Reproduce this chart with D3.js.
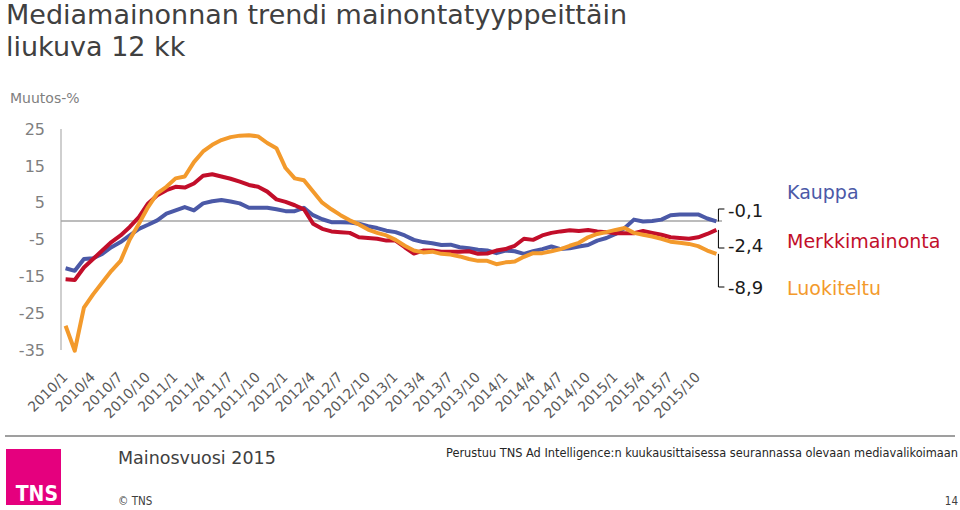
<!DOCTYPE html>
<html><head><meta charset="utf-8">
<script src="https://cdn.jsdelivr.net/npm/d3@7"></script>
<style>
html,body{margin:0;padding:0;background:#fff;}
svg{display:block;font-family:"DejaVu Sans",Verdana,sans-serif;}
</style></head>
<body><svg id="c" width="960" height="510"></svg>
<script>
// ---- data ----
const years = [2010, 2011, 2012, 2013, 2014, 2015];
const monthsPerYear = 12;
const tickLabels = ["2010/1","2010/4","2010/7","2010/10","2011/1","2011/4","2011/7","2011/10",
  "2012/1","2012/4","2012/7","2012/10","2013/1","2013/4","2013/7","2013/10",
  "2014/1","2014/4","2014/7","2014/10","2015/1","2015/4","2015/7","2015/10"];
const yTicks = [25, 15, 5, -5, -15, -25, -35];
const seriesNames = ["Kauppa", "Merkkimainonta", "Luokiteltu"];
const seriesColors = ["#4B59A7", "#C20E2A", "#F39A2C"];
const endLabels = ["-0,1", "-2,4", "-8,9"];
const kauppa = [-12.8,-13.5,-10.3,-10.1,-8.9,-7.1,-5.7,-3.9,-2.1,-1.0,0.2,2.0,
  2.9,3.8,2.9,4.8,5.4,5.7,5.3,4.8,3.6,3.6,3.6,3.2,
  2.7,2.7,3.6,1.6,0.5,-0.3,-0.3,-0.4,-0.7,-1.4,-1.9,-2.6,
  -3.0,-3.9,-5.1,-5.7,-6.0,-6.5,-6.4,-7.1,-7.4,-7.8,-8.0,-8.7,
  -8.0,-8.2,-8.9,-8.2,-7.6,-6.9,-7.6,-7.4,-6.9,-6.5,-5.3,-4.6,
  -3.5,-1.9,0.4,-0.1,0.0,0.4,1.6,1.8,1.8,1.8,0.7,-0.1];
const merkkimainonta = [-15.8,-16.0,-12.6,-10.3,-8.0,-5.7,-3.9,-1.6,1.1,4.8,7.0,8.4,
  9.3,9.1,10.2,12.3,12.7,12.1,11.5,10.7,9.8,9.3,8.0,5.9,
  5.2,4.3,3.2,-0.7,-2.1,-2.8,-3.0,-3.2,-4.4,-4.6,-4.8,-5.3,
  -5.3,-7.1,-8.8,-8.0,-8.0,-8.3,-8.3,-8.3,-8.2,-8.9,-8.8,-8.0,
  -7.6,-6.7,-4.8,-5.1,-3.9,-3.2,-2.8,-2.5,-2.7,-2.4,-2.8,-3.0,
  -3.3,-3.3,-3.3,-2.7,-3.2,-3.7,-4.4,-4.6,-4.8,-4.4,-3.5,-2.4];
const luokiteltu = [-28.4,-35.2,-23.5,-19.9,-16.7,-13.5,-10.8,-5.0,-0.7,3.8,7.5,9.3,
  11.6,12.1,16.0,18.9,20.7,22.0,22.8,23.2,23.3,23.0,21.2,19.8,
  14.4,11.6,11.1,8.0,5.0,3.2,1.6,0.2,-0.9,-2.3,-3.2,-3.9,
  -5.1,-6.7,-8.0,-8.5,-8.3,-8.9,-9.1,-9.6,-10.3,-10.8,-10.8,-11.7,
  -11.2,-11.0,-9.7,-8.7,-8.7,-8.2,-7.6,-6.7,-5.9,-4.4,-3.5,-3.0,
  -2.4,-1.9,-3.2,-3.7,-4.2,-4.8,-5.6,-5.9,-6.2,-6.8,-8.0,-8.9];
const seriesValues = [kauppa, merkkimainonta, luokiteltu];

// ---- build ----
const months = [];
years.forEach(y => { for (let m = 1; m <= monthsPerYear; m++) months.push(y + "/" + m); });

const svg = d3.select("#c");

// title
svg.append("text").attr("x", 6).attr("y", 24).attr("font-size", 27).attr("fill", "#404040")
  .text("Mediamainonnan trendi mainontatyyppeittäin");
svg.append("text").attr("x", 6).attr("y", 56).attr("font-size", 27).attr("fill", "#404040")
  .text("liukuva 12 kk");
svg.append("text").attr("x", 10).attr("y", 103).attr("font-size", 14).attr("fill", "#808080")
  .text("Muutos-%");

const x = d3.scalePoint().domain(months).range([61, 721]).padding(0.5);
const y = d3.scaleLinear().domain([-35, 25]).range([350, 129]);

// y axis labels
svg.append("g").selectAll("text").data(yTicks).join("text")
  .attr("x", 45).attr("y", d => y(d)).attr("dy", "0.36em")
  .attr("text-anchor", "end").attr("font-size", 16).attr("fill", "#7f7f7f")
  .text(d => d);

// y axis line
svg.append("line").attr("x1", 61).attr("x2", 61).attr("y1", y(25)).attr("y2", y(-35))
  .attr("stroke", "#bfbfbf").attr("stroke-width", 1.5);
// zero line
svg.append("line").attr("x1", 61).attr("x2", 722).attr("y1", y(0)).attr("y2", y(0))
  .attr("stroke", "#a6a6a6").attr("stroke-width", 1.5);

// x labels
svg.append("g").selectAll("text").data(tickLabels).join("text")
  .attr("transform", d => `translate(${x(d) + 3},${378}) rotate(-45)`)
  .attr("text-anchor", "end").attr("font-size", 14).attr("fill", "#595959")
  .text(d => d);

// lines
const line = d3.line().x((d, i) => x(months[i])).y(d => y(d));
seriesValues.forEach((vals, k) => {
  svg.append("path").datum(vals).attr("d", line)
    .attr("fill", "none").attr("stroke", seriesColors[k]).attr("stroke-width", 4)
    .attr("stroke-linejoin", "round");
});

// callouts
const lastX = x(months[months.length - 1]);
const bx = lastX + 2;
const calloutY = [209, 248, 287];
const labelCenterY = [211, 246, 288];
seriesValues.forEach((vals, k) => {
  const yEnd = y(vals[vals.length - 1]);
  svg.append("path")
    .attr("d", `M${bx},${yEnd}V${calloutY[k]}H${bx + 6}`)
    .attr("fill", "none").attr("stroke", "#000").attr("stroke-width", 1);
  svg.append("text").attr("x", 728).attr("y", labelCenterY[k]).attr("dy", "0.36em")
    .attr("font-size", 18).attr("fill", "#1a1a1a").text(endLabels[k]);
});
const legendY = [192, 241, 288];
seriesNames.forEach((n, k) => {
  svg.append("text").attr("x", 787).attr("y", legendY[k]).attr("dy", "0.36em")
    .attr("font-size", 19).attr("fill", seriesColors[k]).text(n);
});

// footer
svg.append("line").attr("x1", 5).attr("x2", 955).attr("y1", 436).attr("y2", 436)
  .attr("stroke", "#7f7f7f").attr("stroke-width", 1.5);
svg.append("rect").attr("x", 6).attr("y", 449).attr("width", 55).attr("height", 56).attr("fill", "#E5007E");
svg.append("text").attr("x", 58).attr("y", 501).attr("text-anchor", "end")
  .attr("font-family", "'DejaVu Sans Condensed','DejaVu Sans',sans-serif")
  .attr("font-weight", "bold").attr("font-size", 21).attr("fill", "#fff").text("TNS");
svg.append("text").attr("x", 118).attr("y", 464).attr("font-size", 17.5).attr("fill", "#404040")
  .text("Mainosvuosi 2015");
svg.append("text").attr("x", 446).attr("y", 457).attr("font-size", 12)
  .attr("font-family", "'DejaVu Sans Condensed','DejaVu Sans',sans-serif")
  .attr("textLength", 512).attr("lengthAdjust", "spacingAndGlyphs").attr("fill", "#262626")
  .text("Perustuu TNS Ad Intelligence:n kuukausittaisessa seurannassa olevaan mediavalikoimaan");
svg.append("text").attr("x", 118).attr("y", 505).attr("font-size", 11.5).attr("fill", "#404040")
  .attr("font-family", "'DejaVu Sans Condensed','DejaVu Sans',sans-serif").text("© TNS");
svg.append("text").attr("x", 958).attr("y", 505).attr("text-anchor", "end").attr("font-size", 11.5)
  .attr("font-family", "'DejaVu Sans Condensed','DejaVu Sans',sans-serif").attr("fill", "#404040").text("14");
</script></body></html>
